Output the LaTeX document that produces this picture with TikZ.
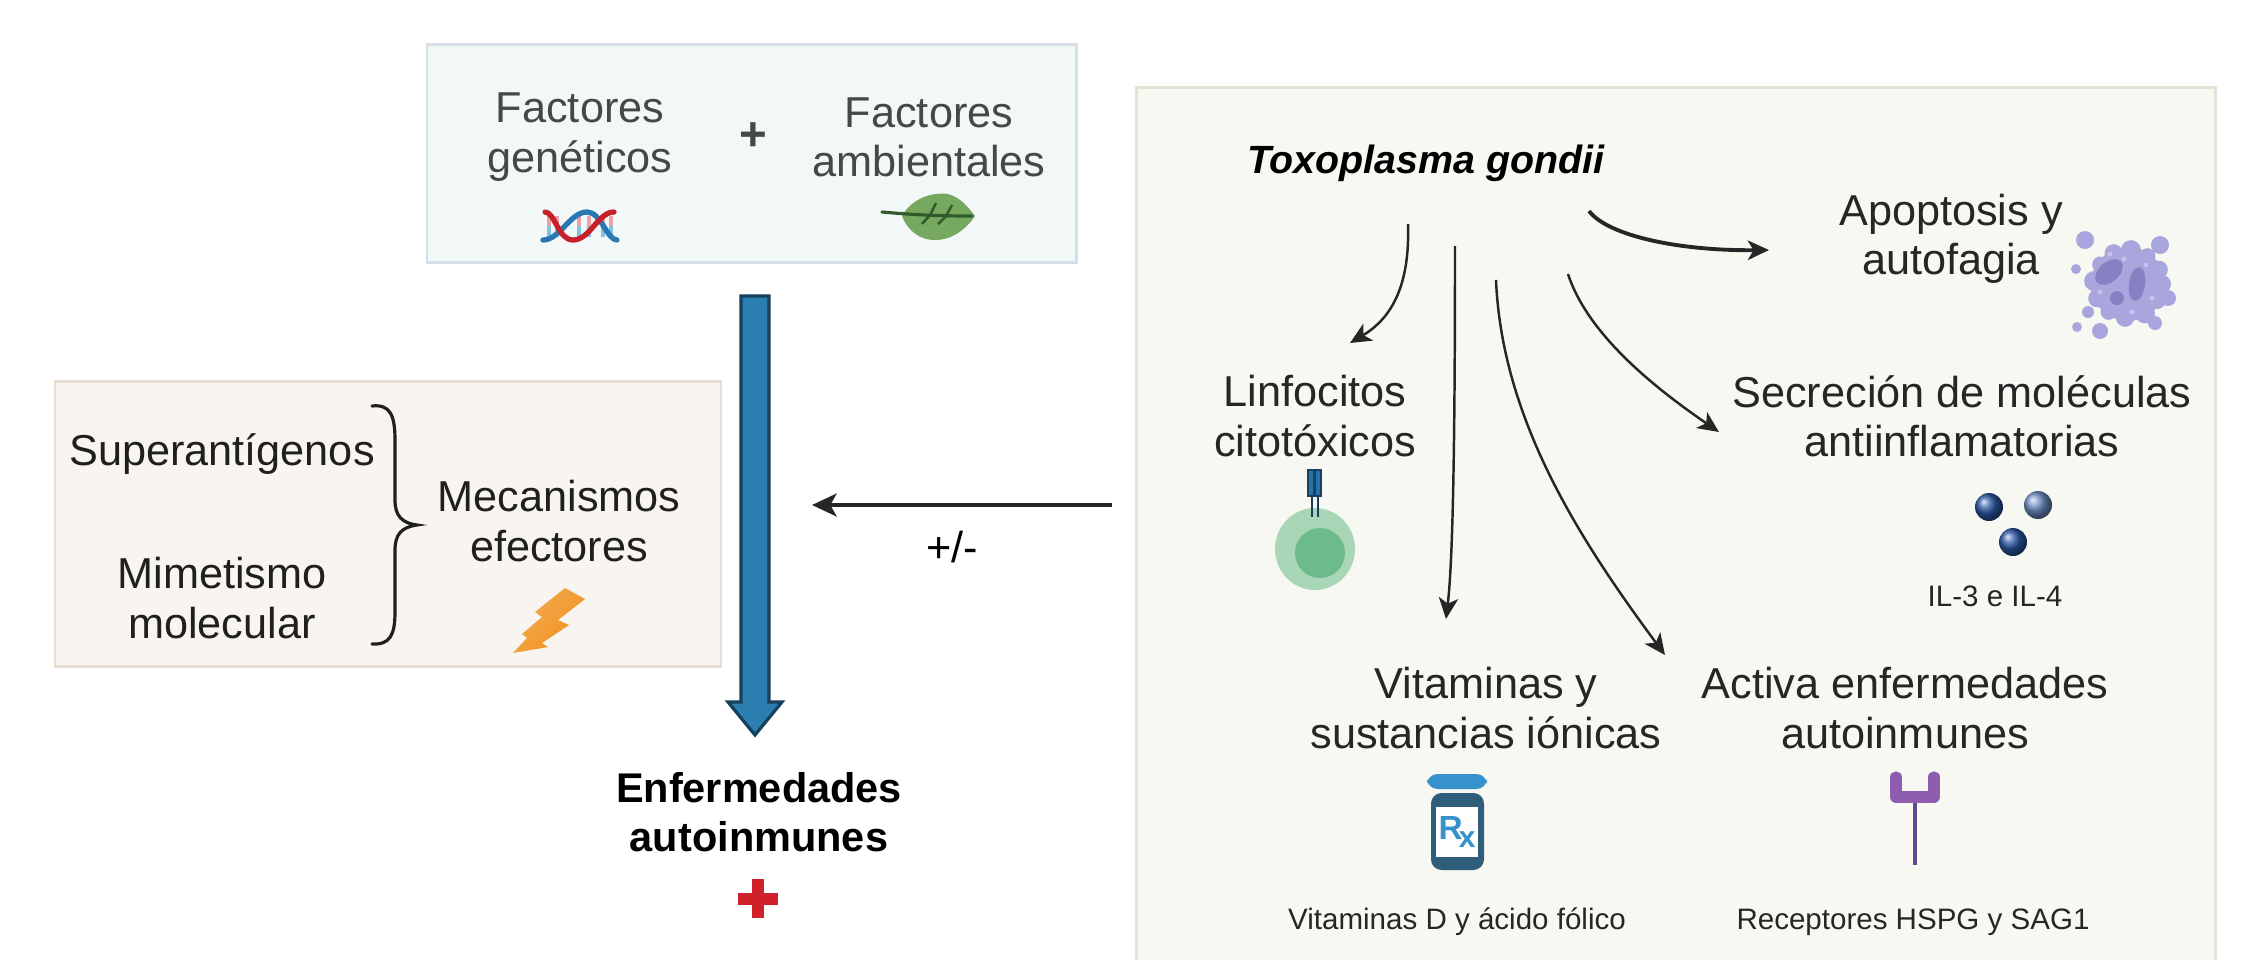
\documentclass[tikz,border=0pt]{standalone}
\usepackage{fontspec}
\setmainfont{Liberation Sans}
\usetikzlibrary{arrows.meta}

\definecolor{topfill}{HTML}{F2F7F8}
\definecolor{topedge}{HTML}{D6DFE7}
\definecolor{leftfill}{HTML}{F8F4F0}
\definecolor{leftedge}{HTML}{E7DED4}
\definecolor{rightfill}{HTML}{F8F8F3}
\definecolor{rightedge}{HTML}{E4E1D5}
\definecolor{greytext}{HTML}{474747}
\definecolor{darktext}{HTML}{1F1F1F}
\definecolor{linkcol}{HTML}{262626}
\definecolor{arrowblue}{HTML}{2A7EB0}
\definecolor{arrowedge}{HTML}{173F5E}
\definecolor{dnared}{HTML}{C8202A}
\definecolor{dnablue}{HTML}{2A78B2}
\definecolor{dnapink}{HTML}{E9A2AA}
\definecolor{dnacyan}{HTML}{7FC3DF}
\definecolor{leafgreen}{HTML}{76A85F}
\definecolor{leafvein}{HTML}{2F5A2A}
\definecolor{bolt}{HTML}{F0901C}
\definecolor{crossred}{HTML}{D0202A}
\definecolor{lav}{HTML}{A9A6DD}
\definecolor{lavdark}{HTML}{8581C3}
\definecolor{lavlight}{HTML}{C4C2EC}
\definecolor{cellout}{HTML}{A9D6B6}
\definecolor{cellin}{HTML}{6DBA8B}
\definecolor{tcrblue}{HTML}{2373AD}
\definecolor{tcredge}{HTML}{1B3F5E}
\definecolor{dotdark}{HTML}{2D58A5}
\definecolor{dotlight}{HTML}{7090C6}
\definecolor{rxcap}{HTML}{3592CB}
\definecolor{rxbody}{HTML}{2E5E79}
\definecolor{recpurple}{HTML}{8E5DB0}
\definecolor{recstem}{HTML}{5E4A8C}

\begin{document}
\begin{tikzpicture}[x=0.01cm,y=-0.01cm,
  maintext/.style={align=center,inner sep=0pt,font=\fontsize{12.3}{14}\selectfont},
  toptext/.style={maintext,text=greytext},
  lefttext/.style={maintext,text=darktext},
  righttext/.style={maintext,text=linkcol},
  smalltext/.style={align=center,inner sep=0pt,font=\fontsize{8.4}{10}\selectfont,text=linkcol},
  link/.style={draw=linkcol,line width=0.7pt,
    -{Stealth[length=6pt,width=5.5pt,inset=1.6pt]}},
  panel/.style={line width=0.85pt}]

\useasboundingbox (0,0) rectangle (2241,960);
\fill[white] (0,0) rectangle (2241,960);

% ---------- panels ----------
\draw[panel,fill=topfill,draw=topedge] (427,44) rectangle (1076,262);
\draw[panel,fill=leftfill,draw=leftedge] (55,381) rectangle (721,666);
\fill[rightfill] (1136,87) rectangle (2215,990);
\draw[panel,draw=rightedge] (1136,990) -- (1136,87) -- (2215,87) -- (2215,990);

% ---------- genetic and environmental factors ----------
\node[toptext] (fg) at (580,137) {Factores\\genéticos};
\node[inner sep=0pt,font=\fontsize{13.5}{14}\selectfont\bfseries,text=greytext] (plus) at (753,137) {+};
\node[toptext] (fa) at (929,137) {Factores\\ambientales};

% DNA double helix
\foreach \xx in {549,557,579,589,603,611}{
  \draw[dnapink,line width=1.3pt] (\xx,216) -- (\xx,226);
  \draw[dnacyan,line width=1.3pt] (\xx,226) -- (\xx,237);
}
\draw[dnablue,line width=1.5pt,line cap=round] (543,240) .. controls (560,240) and (570,212) .. (587,212) .. controls (601,212) and (607,240) .. (617,240);
\draw[dnared,line width=1.5pt,line cap=round] (545,212) .. controls (555,212) and (558,240) .. (573,240) .. controls (590,240) and (598,212) .. (614,212);

% leaf
\fill[leafgreen] (902,216) .. controls (912,198) and (932,192) .. (948,194)
  .. controls (960,197) and (968,207) .. (975,216)
  .. controls (967,228) and (953,240) .. (935,240)
  .. controls (918,240) and (907,229) .. (902,216) -- cycle;
\draw[leafvein,line width=0.9pt,line cap=round] (882,212) .. controls (905,214) and (930,216) .. (972,216);
\draw[leafvein,line width=0.7pt] (922,224) -- (930,215) -- (936,203);
\draw[leafvein,line width=0.7pt] (938,224) -- (946,216) -- (952,205);

% ---------- main pathway arrow ----------
\draw[fill=arrowblue,draw=arrowedge,line width=0.9pt,line join=miter]
  (741,296) -- (769,296) -- (769,702) -- (782,702) -- (755,735) -- (728,702) -- (741,702) -- cycle;

\node[inner sep=0pt,align=center,font=\fontsize{11.8}{14}\selectfont\bfseries,text=black] (enf) at (759,812) {Enfermedades\\autoinmunes};
\fill[crossred] (752,879) rectangle (764,918);
\fill[crossred] (738,893) rectangle (778,905);

% ---------- effector mechanisms ----------
\node[lefttext] (sup) at (222,454) {Superantígenos};
\node[lefttext] (mim) at (222,598) {Mimetismo\\molecular};
\draw[darktext,line width=0.9pt,line cap=round]
  (372,406) .. controls (390,404) and (395,415) .. (395,440) -- (395,500)
  .. controls (395,516) and (402,523) .. (417,525)
  .. controls (402,527) and (395,534) .. (395,550) -- (395,612)
  .. controls (395,635) and (390,645) .. (372,644);
\node[lefttext] (mec) at (559,521) {Mecanismos\\efectores};

% lightning bolt
\shade[left color=bolt!75!white,right color=bolt,shading angle=45]
  (565,588) -- (585,599) -- (558,620) -- (569,625) -- (542,643) -- (548,647)
  -- (513,653) -- (527,638) -- (522,634) -- (542,617) -- (535,612) -- cycle;

% ---------- Toxoplasma influence ----------
\coordinate (hsrc) at (1112,505);
\coordinate (hdst) at (812,505);
\draw[draw=linkcol,line width=1.1pt,-{Stealth[length=7pt,width=6.5pt,inset=1.8pt]}] (hsrc) -- (hdst);
\node[inner sep=0pt,font=\fontsize{12.3}{14}\selectfont,text=black] (pm) at (952,547) {+/-};

\node[inner sep=0pt,font=\fontsize{11.2}{14}\selectfont\bfseries\itshape,text=black] (tg) at (1426,163) {Toxoplasma gondii};

\node[righttext] (apo) at (1951,239) {Apoptosis y\\autofagia};
\node[righttext] (lin) at (1315,416) {Linfocitos\\citotóxicos};
\node[righttext] (sec) at (1962,416) {Secreción de moléculas\\antiinflamatorias};
\node[smalltext] (il) at (1995,596) {IL-3 e IL-4};
\node[righttext] (vit) at (1486,708) {Vitaminas y\\sustancias iónicas};
\node[righttext] (act) at (1905,708) {Activa enfermedades\\autoinmunes};
\node[smalltext] (vitd) at (1457,922) {Vitaminas D y ácido fólico};
\node[smalltext] (rec) at (1913,922) {Receptores HSPG y SAG1};

% arrows leaving Toxoplasma gondii
\coordinate (sLin) at (1408,224);
\coordinate (eLin) at (1350,343);
\coordinate (sVit) at (1455,246);
\coordinate (eVit) at (1446,619);
\coordinate (sAct) at (1496,280);
\coordinate (eAct) at (1665,655);
\coordinate (sSec) at (1568,274);
\coordinate (eSec) at (1719,432);
\coordinate (sApo) at (1589,211);
\coordinate (eApo) at (1769,250);

\draw[link] (sLin) .. controls (1410,285) and (1392,318) .. (eLin);
\draw[link] (sVit) .. controls (1455,440) and (1453,560) .. (eVit);
\draw[link] (sAct) .. controls (1502,420) and (1580,540) .. (eAct);
\draw[link] (sSec) .. controls (1588,335) and (1655,388) .. (eSec);
\draw[link,line width=1.1pt] (sApo) .. controls (1608,236) and (1680,251) .. (eApo);

% apoptotic cell: bumpy body, nuclei and detached blebs
\fill[lav] (2128,284) circle (37);
\foreach \a/\r in {0/9,30/8,60/10,95/9,125/8,155/9,185/10,215/8,245/9,275/10,305/8,335/9}
  \fill[lav] ({2128+34*cos(\a)},{284+34*sin(\a)}) circle (\r);
\fill[lavdark,rotate around={40:(2109,272)}] (2109,272) ellipse (16 and 10);
\fill[lavdark,rotate around={-8:(2137,284)}] (2137,284) ellipse (8 and 17);
\fill[lavdark] (2117,298) circle (7);
\foreach \px/\py in {2124/259,2146/265,2100/292,2152/298,2132/312,2110/254}
  \fill[lavlight] (\px,\py) circle (2.5);
\foreach \px/\py/\r in {2085/240/9,2160/245/9,2076/269/5,2168/298/8,2088/312/6,2077/327/5,2100/331/8,2155/323/7}
  \fill[lav] (\px,\py) circle (\r);

% cytotoxic lymphocyte
\fill[cellout] (1315,549) ellipse (40 and 41);
\fill[cellin] (1320,553) circle (25);
\draw[tcredge,line width=0.5pt] (1312,495) -- (1312,517);
\draw[tcredge,line width=0.5pt] (1318,495) -- (1318,517);
\draw[fill=tcrblue,draw=tcredge,line width=0.4pt] (1308,470) rectangle (1314,496);
\draw[fill=tcrblue,draw=tcredge,line width=0.4pt] (1315,470) rectangle (1321,496);

% cytokines
\shade[ball color=dotdark] (1989,507) circle (14);
\shade[ball color=dotlight] (2038,505) circle (14);
\shade[ball color=dotdark] (2013,542) circle (14);

% prescription bottle
\fill[rxcap,rounded corners=3pt] (1427,774) rectangle (1487,789);
\fill[rxbody,rounded corners=3pt] (1431,793) rectangle (1484,870);
\fill[white] (1436,807) rectangle (1478,857);
\node[inner sep=0pt,font=\fontsize{9.5}{9}\selectfont\bfseries,text=rxcap] (rx) at (1457,832)
  {R\kern-0.12em\raisebox{-0.45ex}{\fontsize{8.5}{8}\selectfont x}};

% receptor
\draw[recstem,line width=0.9pt] (1915,798) -- (1915,865);
\draw[recpurple,line width=3.2pt,line cap=round,line join=round] (1896,777) -- (1896,797) -- (1934,797) -- (1934,777);

\end{tikzpicture}
\end{document}
